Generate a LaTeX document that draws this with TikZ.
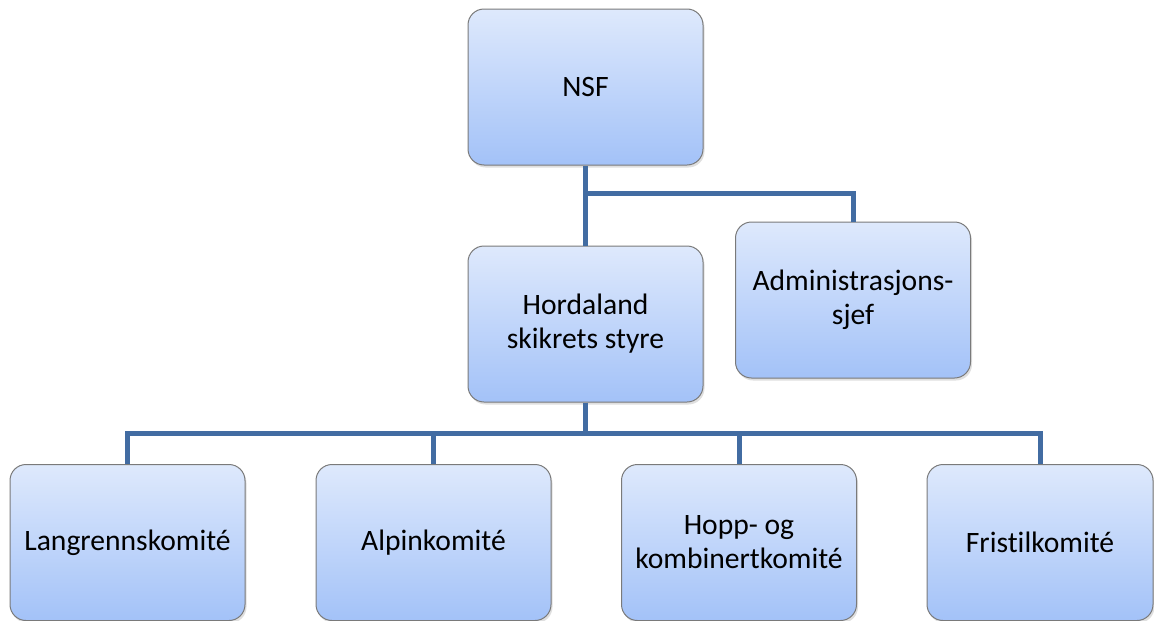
\documentclass[tikz,border=0pt]{standalone}
\usepackage{fontspec}
\setmainfont{Carlito}[Ligatures=NoCommon]
\usetikzlibrary{shadows}
\definecolor{boksTopp}{RGB}{222,233,252}
\definecolor{boksBunn}{RGB}{163,194,248}
\definecolor{boksKant}{RGB}{122,122,122}
\definecolor{linjeBlaa}{RGB}{66,108,162}
\begin{document}
\begin{tikzpicture}[x=1pt,y=-1pt,
	boks/.style={draw=boksKant, line width=1pt, rounded corners=16pt,
		top color=boksTopp, bottom color=boksBunn,
		drop shadow={opacity=0.25, shadow xshift=1.5pt, shadow yshift=-2.5pt},
		minimum width=235pt, minimum height=156pt, align=center,
		font=\fontsize{29.6}{34}\selectfont},
	linje/.style={draw=linjeBlaa, line width=5pt}]
	\useasboundingbox (0,0) rectangle (1154,621);
	
	\node[boks] (nsf) at (585.5,87) {NSF};
	\node[boks] (styre) at (585.5,324) {Hordaland\\skikrets styre};
	\node[boks] (adm) at (853,300) {Administrasjons-\\sjef};
	
	\node[boks] (langrenn) at (127.5,542.5) {Langrennskomité};
	\node[boks] (alpin) at (433.5,542.5) {Alpinkomité};
	\node[boks] (hopp) at (739,542.5) {Hopp- og\\kombinertkomité};
	\node[boks, minimum width=226pt] (fristil) at (1040,542.5) {Fristilkomité};
	
	\coordinate (grein) at (585.5,193);
	\coordinate (deling) at (585.5,433);
	
	\draw[linje] (nsf.south) -- (styre.north);
	\draw[linje] (grein) -| (adm.north);
	\draw[linje] (styre.south) -- (deling);
	\foreach \k in {langrenn,alpin,hopp,fristil}
		\draw[linje] (deling) -| (\k.north);
\end{tikzpicture}
\end{document}
